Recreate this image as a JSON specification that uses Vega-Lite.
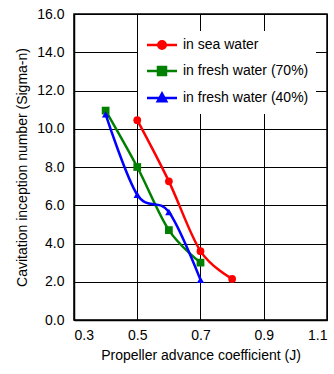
{
  "$schema": "https://vega.github.io/schema/vega-lite/v6.json",
  "autosize": {"type": "none"},
  "width": 253,
  "height": 306,
  "padding": {"left": 74, "top": 14, "right": 7, "bottom": 54},
  "background": "white",
  "config": {
    "view": {"stroke": "black", "strokeWidth": 1.5},
    "font": "Liberation Sans",
    "axis": {
      "grid": true,
      "gridColor": "black",
      "gridOpacity": 1,
      "gridWidth": 1,
      "domainColor": "black",
      "domainWidth": 1.5,
      "ticks": false,
      "labelColor": "black",
      "labelFont": "Liberation Sans",
      "labelFontSize": 14,
      "titleColor": "black",
      "titleFont": "Liberation Sans",
      "titleFontSize": 14,
      "titleFontWeight": "normal"
    }
  },
  "data": {
    "values": [
      {"series": "in sea water", "J": 0.5, "sigma": 10.45},
      {"series": "in sea water", "J": 0.6, "sigma": 7.25},
      {"series": "in sea water", "J": 0.7, "sigma": 3.6},
      {"series": "in sea water", "J": 0.8, "sigma": 2.15},
      {"series": "in fresh water (70%)", "J": 0.4, "sigma": 10.95},
      {"series": "in fresh water (70%)", "J": 0.5, "sigma": 8.0},
      {"series": "in fresh water (70%)", "J": 0.6, "sigma": 4.7},
      {"series": "in fresh water (70%)", "J": 0.7, "sigma": 3.0},
      {"series": "in fresh water (40%)", "J": 0.4, "sigma": 10.75},
      {"series": "in fresh water (40%)", "J": 0.5, "sigma": 6.55},
      {"series": "in fresh water (40%)", "J": 0.6, "sigma": 5.65},
      {"series": "in fresh water (40%)", "J": 0.7, "sigma": 2.1}
    ]
  },
  "encoding": {
    "x": {
      "field": "J",
      "type": "quantitative",
      "scale": {"domain": [0.3, 1.1], "nice": false, "zero": false},
      "axis": {
        "values": [0.3, 0.5, 0.7, 0.9, 1.1],
        "format": ".1f",
        "labelPadding": 8,
        "title": "Propeller advance coefficient (J)",
        "titlePadding": 6
      }
    },
    "y": {
      "field": "sigma",
      "type": "quantitative",
      "scale": {"domain": [0, 16], "nice": false},
      "axis": {
        "values": [0, 2, 4, 6, 8, 10, 12, 14, 16],
        "format": ".1f",
        "labelPadding": 10,
        "title": "Cavitation inception number (Sigma-n)",
        "titlePadding": 7
      }
    },
    "color": {
      "field": "series",
      "type": "nominal",
      "sort": ["in sea water", "in fresh water (70%)", "in fresh water (40%)"],
      "scale": {
        "domain": ["in sea water", "in fresh water (70%)", "in fresh water (40%)"],
        "range": ["#ff0000", "#008000", "#0000ff"]
      },
      "legend": {
        "title": null,
        "orient": "none",
        "legendX": 64,
        "legendY": 17,
        "padding": 7,
        "fillColor": "white",
        "strokeColor": null,
        "labelFont": "Liberation Sans",
        "labelFontSize": 14,
        "labelColor": "black",
        "labelOffset": 24,
        "symbolType": "M-1,0H5",
        "symbolSize": 100,
        "symbolStrokeWidth": 2.5,
        "rowPadding": 8,
        "encode": {
          "symbols": {
            "update": {
              "shape": {"signal": "datum.value === 'in sea water' ? 'M-1,0H5M2.75,0A0.75,0.75,0,1,1,1.25,0A0.75,0.75,0,1,1,2.75,0Z' : datum.value === 'in fresh water (70%)' ? 'M-1,0H5M1.2,-0.8H2.8V0.8H1.2Z' : 'M-1,0H5M2,-0.9L2.85,0.65H1.15Z'"},
              "fill": {"signal": "datum.value === 'in sea water' ? '#ff0000' : datum.value === 'in fresh water (70%)' ? '#008000' : '#0000ff'"},
              "stroke": {"signal": "datum.value === 'in sea water' ? '#ff0000' : datum.value === 'in fresh water (70%)' ? '#008000' : '#0000ff'"},
              "strokeWidth": {"value": 2.5},
              "opacity": {"value": 1},
              "fillOpacity": {"value": 1},
              "strokeOpacity": {"value": 1}
            }
          }
        }
      }
    }
  },
  "layer": [
    {
      "mark": {"type": "line", "interpolate": "cardinal", "strokeWidth": 2.5},
      "encoding": {"order": {"field": "J"}}
    },
    {
      "transform": [{"filter": "datum.series === 'in sea water'"}],
      "mark": {"type": "point", "shape": "circle", "filled": true, "opacity": 1, "size": 60}
    },
    {
      "transform": [{"filter": "datum.series === 'in fresh water (70%)'"}],
      "mark": {"type": "point", "shape": "square", "filled": true, "opacity": 1, "size": 60}
    },
    {
      "transform": [{"filter": "datum.series === 'in fresh water (40%)'"}],
      "mark": {"type": "point", "shape": "triangle-up", "filled": true, "opacity": 1, "size": 55}
    }
  ]
}
